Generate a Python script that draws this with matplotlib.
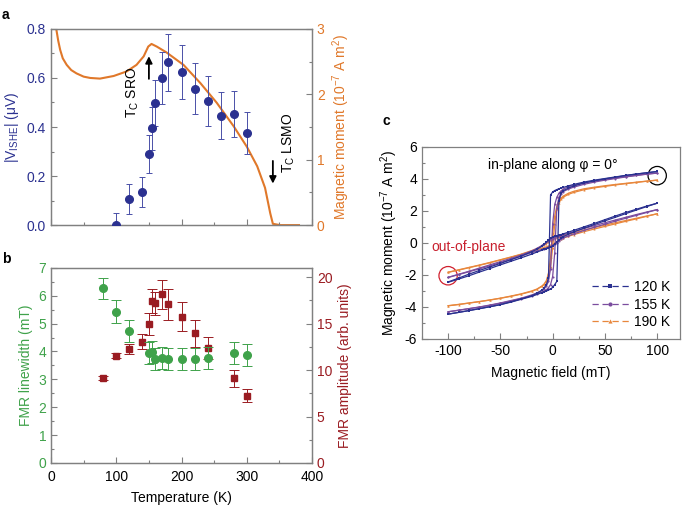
import numpy as np
import matplotlib
matplotlib.use('Agg')
import matplotlib.pyplot as plt
from matplotlib.lines import Line2D
from matplotlib.patches import Ellipse

plt.rcParams['font.family'] = ['Liberation Sans', 'DejaVu Sans']
plt.rcParams['mathtext.default'] = 'regular'
plt.rcParams['axes.unicode_minus'] = False
plt.rcParams['font.size'] = 10

# ---- panel a data ----
T_ishe = [100, 120, 140, 150, 155, 160, 170, 180, 200, 220, 240, 260, 280, 300]
V_ishe = [0.0, 0.107, 0.135, 0.29, 0.395, 0.498, 0.60, 0.663, 0.623, 0.555, 0.506, 0.446, 0.453, 0.375]
V_err = [0.05, 0.06, 0.063, 0.078, 0.087, 0.095, 0.105, 0.117, 0.11, 0.104, 0.10, 0.095, 0.094, 0.087]

T_mom = [8, 11, 14, 18, 24, 31, 39, 50, 60, 75, 96, 116, 131, 142, 149, 154, 162, 177, 203, 229,
         254, 280, 300, 316, 328, 336, 340, 351, 380]
M_mom = [3.0, 2.82, 2.68, 2.55, 2.45, 2.37, 2.32, 2.27, 2.25, 2.24, 2.28, 2.35, 2.45, 2.58, 2.73,
         2.77, 2.73, 2.64, 2.45, 2.17, 1.87, 1.51, 1.20, 0.90, 0.57, 0.18, 0.02, 0.0, 0.0]

# ---- panel b data ----
T_fmr = [80, 100, 120, 150, 155, 160, 170, 180, 200, 220, 240, 280, 300]
lw_fmr = [6.26, 5.43, 4.73, 3.94, 3.97, 3.72, 3.77, 3.72, 3.72, 3.72, 3.77, 3.94, 3.88]
lw_err = [0.39, 0.4, 0.4, 0.4, 0.4, 0.4, 0.4, 0.4, 0.4, 0.4, 0.4, 0.4, 0.4]

T_amp = [80, 100, 120, 140, 150, 155, 160, 170, 180, 200, 220, 240, 280, 300]
amp_fmr = [9.12, 11.56, 12.24, 13.06, 14.92, 17.46, 17.17, 18.17, 17.07, 15.74, 13.95, 12.34, 9.12, 7.26]
amp_err = [0.2, 0.25, 0.55, 0.8, 1.2, 1.3, 1.25, 1.55, 1.7, 1.55, 1.45, 1.2, 0.9, 0.7]

# ---- panel c data (field grid, descending order) ----
H = [100, 90, 80, 70, 60, 50, 40, 30, 20, 15, 10, 8, 6, 4, 2, 0, -2, -4, -6, -8, -10,
     -15, -20, -30, -40, -50, -60, -70, -80, -90, -100]

ip120_dn = [4.46, 4.38, 4.3, 4.22, 4.12, 4.02, 3.92, 3.8, 3.65, 3.56, 3.46, 3.42, 3.38, 3.33, 3.27,
            3.18, 3.0, -2.2, -2.6, -2.8, -2.95, -3.15, -3.3, -3.5, -3.68, -3.85, -3.98, -4.1, -4.22, -4.34, -4.45]
ip120_up = [4.46, 4.38, 4.3, 4.21, 4.1, 4.0, 3.88, 3.74, 3.55, 3.42, 3.25, 3.1, 2.6, -2.4, -2.6,
            -2.78, -2.88, -2.95, -3.0, -3.05, -3.1, -3.22, -3.34, -3.52, -3.7, -3.86, -3.99, -4.11, -4.23, -4.34, -4.45]
ip155_dn = [4.36, 4.3, 4.22, 4.14, 4.05, 3.96, 3.86, 3.75, 3.6, 3.5, 3.35, 3.25, 3.1, 2.85, 2.4,
            1.2, -1.6, -2.4, -2.7, -2.85, -2.95, -3.12, -3.25, -3.45, -3.6, -3.75, -3.88, -4.0, -4.1, -4.2, -4.3]
ip155_up = [4.36, 4.29, 4.21, 4.12, 4.02, 3.92, 3.8, 3.66, 3.48, 3.36, 3.2, 3.05, 2.85, 2.2, -0.6,
            -2.1, -2.6, -2.8, -2.92, -3.0, -3.06, -3.18, -3.3, -3.48, -3.63, -3.77, -3.9, -4.01, -4.11, -4.21, -4.3]
ip190_dn = [3.92, 3.86, 3.79, 3.72, 3.65, 3.57, 3.48, 3.38, 3.22, 3.1, 2.92, 2.8, 2.6, 2.3, 1.7,
            0.6, -0.9, -1.9, -2.35, -2.55, -2.68, -2.88, -3.0, -3.18, -3.32, -3.45, -3.56, -3.66, -3.75, -3.84, -3.92]
ip190_up = [3.92, 3.85, 3.78, 3.7, 3.62, 3.53, 3.44, 3.32, 3.15, 3.03, 2.85, 2.72, 2.5, 2.1, 1.2,
            -0.3, -1.5, -2.1, -2.4, -2.58, -2.7, -2.9, -3.03, -3.2, -3.34, -3.46, -3.57, -3.67, -3.76, -3.85, -3.93]

op120_dn = [2.48, 2.3, 2.1, 1.9, 1.68, 1.45, 1.22, 1.0, 0.78, 0.67, 0.56, 0.52, 0.48, 0.44, 0.4,
            0.35, 0.28, 0.18, 0.05, -0.08, -0.2, -0.4, -0.55, -0.82, -1.05, -1.28, -1.5, -1.72, -1.95, -2.2, -2.44]
op120_up = [2.48, 2.27, 2.05, 1.83, 1.6, 1.38, 1.15, 0.92, 0.68, 0.54, 0.38, 0.3, 0.18, 0.05, -0.08,
            -0.18, -0.25, -0.3, -0.35, -0.4, -0.45, -0.57, -0.7, -0.93, -1.15, -1.37, -1.6, -1.82, -2.05, -2.26, -2.46]
op155_dn = [2.08, 1.93, 1.77, 1.6, 1.43, 1.26, 1.08, 0.9, 0.7, 0.6, 0.5, 0.46, 0.42, 0.38, 0.33,
            0.27, 0.2, 0.12, 0.03, -0.06, -0.15, -0.34, -0.5, -0.75, -0.97, -1.17, -1.37, -1.57, -1.77, -1.96, -2.15]
op155_up = [2.08, 1.9, 1.72, 1.54, 1.36, 1.17, 0.98, 0.78, 0.56, 0.44, 0.3, 0.22, 0.12, 0.02, -0.07,
            -0.15, -0.22, -0.27, -0.32, -0.36, -0.4, -0.5, -0.6, -0.82, -1.03, -1.23, -1.43, -1.62, -1.8, -1.98, -2.16]
op190_dn = [1.82, 1.68, 1.54, 1.4, 1.26, 1.11, 0.96, 0.8, 0.63, 0.54, 0.45, 0.41, 0.37, 0.32, 0.27,
            0.2, 0.12, 0.04, -0.04, -0.12, -0.19, -0.35, -0.48, -0.7, -0.88, -1.05, -1.22, -1.38, -1.53, -1.68, -1.83]
op190_up = [1.82, 1.66, 1.5, 1.35, 1.19, 1.03, 0.87, 0.7, 0.51, 0.41, 0.3, 0.24, 0.16, 0.08, 0.0,
            -0.08, -0.14, -0.2, -0.25, -0.29, -0.33, -0.42, -0.52, -0.72, -0.9, -1.07, -1.24, -1.4, -1.55, -1.7, -1.84]

temps = ['120 K', '155 K', '190 K']

c_blue = '#2b3190'
c_orange = '#e0782a'
c_green = '#3fa24a'
c_red = '#9a1c22'
c_purple = '#7a4c9e'
c_or2 = '#e8873c'
c_spine = '#808080'

fig = plt.figure(figsize=(6.85, 5.07), dpi=100)


def style_ax(ax):
    for s in ax.spines.values():
        s.set_color(c_spine)
        s.set_linewidth(0.9)
    ax.tick_params(which='both', direction='in', color=c_spine, width=0.8)
    ax.tick_params(which='major', length=4)
    ax.tick_params(which='minor', length=2.5)


# ---------------- panel a ----------------
ax_a = fig.add_axes([0.0745, 0.556, 0.381, 0.387])
ax_a2 = ax_a.twinx()
style_ax(ax_a)
style_ax(ax_a2)
ax_a.errorbar(T_ishe, V_ishe, yerr=V_err, fmt='o', color=c_blue, ecolor='#4a50a8', ms=5.5,
              capsize=2.5, elinewidth=0.7, capthick=0.7, zorder=3)
ax_a2.plot(T_mom, M_mom, color=c_orange, lw=1.5)
ax_a.set_xlim(0, 400)
ax_a.set_ylim(0, 0.8)
ax_a2.set_ylim(0, 3)
ax_a.set_xticks(np.arange(0, 401, 100))
ax_a.set_xticks(np.arange(0, 401, 50), minor=True)
ax_a.set_xticklabels([])
ax_a.set_yticks(np.arange(0, 0.81, 0.2))
ax_a.set_yticks(np.arange(0, 0.81, 0.1), minor=True)
ax_a.set_yticklabels(['0.0', '0.2', '0.4', '0.6', '0.8'])
ax_a2.set_yticks([0, 1, 2, 3])
ax_a2.set_yticks(np.arange(0, 3.01, 0.5), minor=True)
ax_a.tick_params(axis='y', labelcolor=c_blue, labelsize=10)
ax_a2.tick_params(axis='y', labelcolor=c_orange, labelsize=10)
ax_a.set_ylabel(r'|V$_{ISHE}$| ($\mu$V)', color=c_blue, labelpad=4)
ax_a2.set_ylabel(r'Magnetic moment (10$^{-7}$ A m$^{2}$)', color=c_orange, labelpad=4)
ax_a.set_zorder(ax_a2.get_zorder() + 1)
ax_a.patch.set_visible(False)

ax_a.annotate('', xy=(150, 0.70), xytext=(150, 0.585),
              arrowprops=dict(arrowstyle='-|>', color='black', lw=1.3, mutation_scale=10))
ax_a.text(126, 0.54, r'T$_C$ SRO', rotation=90, ha='center', va='center', fontsize=10)
ax_a.annotate('', xy=(340, 0.158), xytext=(340, 0.273),
              arrowprops=dict(arrowstyle='-|>', color='black', lw=1.3, mutation_scale=10))
ax_a.text(364, 0.335, r'T$_C$ LSMO', rotation=90, ha='center', va='center', fontsize=10)

# ---------------- panel b ----------------
ax_b = fig.add_axes([0.0745, 0.0868, 0.381, 0.385])
ax_b2 = ax_b.twinx()
style_ax(ax_b)
style_ax(ax_b2)
ax_b2.errorbar(T_amp, amp_fmr, yerr=amp_err, fmt='s', color=c_red, ms=5, capsize=3.5,
               elinewidth=0.7, capthick=0.7)
ax_b.errorbar(T_fmr, lw_fmr, yerr=lw_err, fmt='o', color=c_green, ms=5.5, capsize=3.5,
              elinewidth=0.7, capthick=0.7)
ax_b.set_xlim(0, 400)
ax_b.set_ylim(0, 7)
ax_b2.set_ylim(0, 21)
ax_b.set_xticks(np.arange(0, 401, 100))
ax_b.set_xticks(np.arange(0, 401, 50), minor=True)
ax_b.set_yticks(np.arange(0, 8, 1))
ax_b.set_yticks(np.arange(0, 7.01, 0.5), minor=True)
ax_b2.set_yticks([0, 5, 10, 15, 20])
ax_b2.set_yticks(np.arange(0, 21, 2.5), minor=True)
ax_b.tick_params(axis='y', labelcolor=c_green, labelsize=10)
ax_b.tick_params(axis='x', labelsize=10, pad=5)
ax_b2.tick_params(axis='y', labelcolor=c_red, labelsize=10)
ax_b.set_ylabel('FMR linewidth (mT)', color=c_green, labelpad=4)
ax_b2.set_ylabel('FMR amplitude (arb. units)', color=c_red, labelpad=4)
ax_b.set_xlabel('Temperature (K)', labelpad=5)
ax_b.set_zorder(ax_b2.get_zorder() + 1)
ax_b.patch.set_visible(False)

# ---------------- panel c ----------------
ax_c = fig.add_axes([0.616, 0.3314, 0.377, 0.379])
style_ax(ax_c)
loops = [
    (ip120_dn, ip120_up, op120_dn, op120_up, c_blue, 's'),
    (ip155_dn, ip155_up, op155_dn, op155_up, c_purple, 'o'),
    (ip190_dn, ip190_up, op190_dn, op190_up, c_or2, '^'),
]
for k in [2, 1, 0]:
    a1, a2, b1, b2, col, mk = loops[k]
    for yy in (a1, a2, b1, b2):
        ax_c.plot(H, yy, color=col, lw=0.9, marker=mk, ms=1.5, mew=0)

handles = [Line2D([], [], color=c, lw=0.9, ls=(0, (5, 3)), marker=m, ms=3, mew=0)
           for c, m in [(c_blue, 's'), (c_purple, 'o'), (c_or2, '^')]]
ax_c.legend(handles, temps, loc='lower right', frameon=False, fontsize=10,
            handlelength=2.6, handletextpad=0.4, labelspacing=0.25, borderaxespad=0.3)

ax_c.set_xlim(-125, 122)
ax_c.set_ylim(-6, 6)
ax_c.set_xticks([-100, -50, 0, 50, 100])
ax_c.set_xticks(np.arange(-125, 125, 25), minor=True)
ax_c.set_yticks(np.arange(-6, 7, 2))
ax_c.set_yticks(np.arange(-6, 7, 1), minor=True)
ax_c.tick_params(labelsize=10)
ax_c.set_xlabel('Magnetic field (mT)', labelpad=6)
ax_c.set_ylabel(r'Magnetic moment (10$^{-7}$ A m$^{2}$)', labelpad=3)

ax_c.text(0.5, 4.85, u'in-plane along \u03c6 = 0\u00b0', ha='center', va='center', fontsize=10)
ax_c.text(-116, -0.23, 'out-of-plane', color='#c8202e', ha='left', va='center', fontsize=10)
ax_c.add_patch(Ellipse((100, 4.2), 17.5, 1.15, fill=False, ec='black', lw=0.9))
ax_c.add_patch(Ellipse((-100, -2.05), 17.5, 1.15, fill=False, ec='#d0202e', lw=0.9))

# panel letters
fig.text(0.003, 0.985, 'a', fontsize=10, fontweight='bold', va='top')
fig.text(0.003, 0.503, 'b', fontsize=10, fontweight='bold', va='top')
fig.text(0.558, 0.775, 'c', fontsize=10, fontweight='bold', va='top')

fig.savefig('out.png', dpi=100)
